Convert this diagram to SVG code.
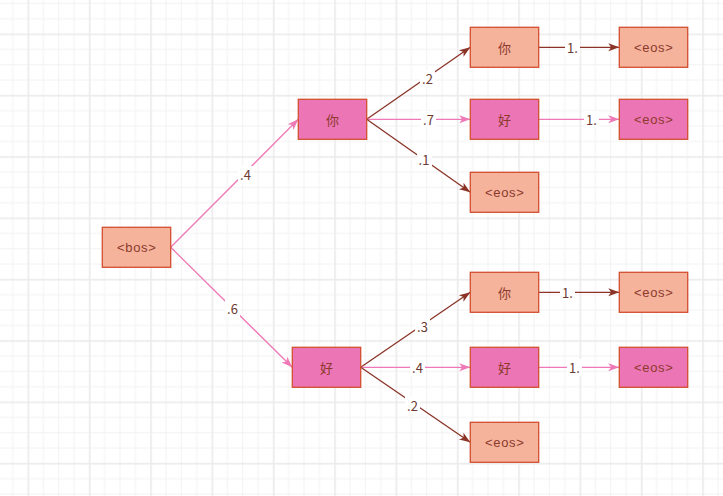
<svg xmlns="http://www.w3.org/2000/svg" width="723" height="496" viewBox="0 0 723 496">
<defs>
<pattern id="grid" patternUnits="userSpaceOnUse" x="27.5" y="33.5" width="61.333" height="61.333">
<rect x="0" y="0" width="61.333" height="61.333" fill="#ffffff"/>
<rect x="15.333" y="0" width="1" height="61.333" fill="#f3f3f3"/>
<rect x="30.667" y="0" width="1" height="61.333" fill="#f3f3f3"/>
<rect x="46" y="0" width="1" height="61.333" fill="#f3f3f3"/>
<rect x="0" y="15.333" width="61.333" height="1" fill="#f3f3f3"/>
<rect x="0" y="30.667" width="61.333" height="1" fill="#f3f3f3"/>
<rect x="0" y="46" width="61.333" height="1" fill="#f3f3f3"/>
<rect x="0" y="0" width="1.6" height="61.333" fill="#ebebeb"/>
<rect x="0" y="0" width="61.333" height="1.6" fill="#ebebeb"/>
</pattern>
<marker id="arrDark" markerUnits="userSpaceOnUse" markerWidth="12" markerHeight="9" refX="11" refY="4" orient="auto" overflow="visible">
<path d="M0,0 L11,4 L0,8 L2.8,4 Z" fill="#8a3326"/>
</marker>
<marker id="arrPink" markerUnits="userSpaceOnUse" markerWidth="12" markerHeight="9" refX="11" refY="4" orient="auto" overflow="visible">
<path d="M0,0 L11,4 L0,8 L2.8,4 Z" fill="#ee79b6"/>
</marker>
</defs>
<style>
.salmon{fill:#f5b39c;stroke:#d24e2f;stroke-width:1.3}
.pink{fill:#ec75b5;stroke:#d24e2f;stroke-width:1.3}
.nt{font-family:"Noto Sans CJK SC","Liberation Sans",sans-serif;font-size:13px;fill:#8c3a2c;text-anchor:middle;dominant-baseline:central}
.ntl{font-family:"Liberation Sans","Noto Sans CJK SC",sans-serif;font-size:13px;letter-spacing:0.7px;fill:#8c3a2c;text-anchor:middle;dominant-baseline:central}
.dark{stroke:#8a3326;stroke-width:1.3;fill:none;marker-end:url(#arrDark)}
.pk{stroke:#ee79b6;stroke-width:1.3;fill:none;marker-end:url(#arrPink)}
.lbg{fill:#ffffff}
.lt{font-family:"Noto Sans CJK SC","Liberation Sans",sans-serif;font-size:13px;fill:#6b3a30;text-anchor:middle;dominant-baseline:central}
</style>
<rect x="0" y="0" width="723" height="496" fill="url(#grid)"/>
<g id="connectors">
<line class="pk" x1="170.7" y1="247.3" x2="298.3" y2="119.3"/>
<line class="pk" x1="170.7" y1="247.3" x2="292.3" y2="367.3"/>
<line class="dark" x1="366.7" y1="119.3" x2="470.3" y2="47.3"/>
<line class="pk" x1="366.7" y1="119.3" x2="470.3" y2="119.3"/>
<line class="dark" x1="366.7" y1="119.3" x2="470.3" y2="192.3"/>
<line class="dark" x1="538.7" y1="47.3" x2="619.3" y2="47.3"/>
<line class="pk" x1="538.7" y1="119.3" x2="619.3" y2="119.3"/>
<line class="dark" x1="360.7" y1="367.3" x2="470.3" y2="292.3"/>
<line class="pk" x1="360.7" y1="367.3" x2="470.3" y2="367.3"/>
<line class="dark" x1="360.7" y1="367.3" x2="470.3" y2="442.3"/>
<line class="dark" x1="538.7" y1="292.3" x2="619.3" y2="292.3"/>
<line class="pk" x1="538.7" y1="367.3" x2="619.3" y2="367.3"/>
<rect class="lbg" x="238" y="166" width="15" height="17"/><text class="lt" x="245.5" y="174.5">.4</text>
<rect class="lbg" x="225" y="300" width="15" height="17"/><text class="lt" x="232.5" y="308.5">.6</text>
<rect class="lbg" x="420" y="70" width="15" height="17"/><text class="lt" x="427.5" y="78.5">.2</text>
<rect class="lbg" x="421" y="111" width="15" height="17"/><text class="lt" x="428.5" y="119.5">.7</text>
<rect class="lbg" x="417" y="151" width="15" height="17"/><text class="lt" x="424" y="159.5">.1</text>
<rect class="lbg" x="565" y="39" width="15" height="17"/><text class="lt" x="572.5" y="47.5">1.</text>
<rect class="lbg" x="584" y="111" width="15" height="17"/><text class="lt" x="591.5" y="119.5">1.</text>
<rect class="lbg" x="415" y="318" width="15" height="17"/><text class="lt" x="422.5" y="326.5">.3</text>
<rect class="lbg" x="410" y="359" width="15" height="17"/><text class="lt" x="417.5" y="367.5">.4</text>
<rect class="lbg" x="405" y="397" width="15" height="17"/><text class="lt" x="412.5" y="405.5">.2</text>
<rect class="lbg" x="560" y="284" width="15" height="17"/><text class="lt" x="567.5" y="292.5">1.</text>
<rect class="lbg" x="567" y="359" width="15" height="17"/><text class="lt" x="574.5" y="367.5">1.</text>
</g>
<g id="n-bos"><rect class="salmon" x="102.3" y="227.3" width="68.4" height="40"/><text class="ntl" x="136.8" y="247.3">&lt;bos&gt;</text></g>
<g id="n-ni1"><rect class="pink" x="298.3" y="99.3" width="68.4" height="40"/><text class="nt" x="332.5" y="119.3">你</text></g>
<g id="n-hao1"><rect class="pink" x="292.3" y="347.3" width="68.4" height="40"/><text class="nt" x="326.5" y="367.3">好</text></g>
<g id="n-ni-ni"><rect class="salmon" x="470.3" y="27.3" width="68.4" height="40"/><text class="nt" x="504.5" y="47.3">你</text></g>
<g id="n-ni-hao"><rect class="pink" x="470.3" y="99.3" width="68.4" height="40"/><text class="nt" x="504.5" y="119.3">好</text></g>
<g id="n-ni-eos"><rect class="salmon" x="470.3" y="172.3" width="68.4" height="40"/><text class="ntl" x="504.8" y="192.3">&lt;eos&gt;</text></g>
<g id="n-ni-ni-eos"><rect class="salmon" x="619.3" y="27.3" width="68.4" height="40"/><text class="ntl" x="653.8" y="47.3">&lt;eos&gt;</text></g>
<g id="n-ni-hao-eos"><rect class="pink" x="619.3" y="99.3" width="68.4" height="40"/><text class="ntl" x="653.8" y="119.3">&lt;eos&gt;</text></g>
<g id="n-hao-ni"><rect class="salmon" x="470.3" y="272.3" width="68.4" height="40"/><text class="nt" x="504.5" y="292.3">你</text></g>
<g id="n-hao-hao"><rect class="pink" x="470.3" y="347.3" width="68.4" height="40"/><text class="nt" x="504.5" y="367.3">好</text></g>
<g id="n-hao-eos"><rect class="salmon" x="470.3" y="422.3" width="68.4" height="40"/><text class="ntl" x="504.8" y="442.3">&lt;eos&gt;</text></g>
<g id="n-hao-ni-eos"><rect class="salmon" x="619.3" y="272.3" width="68.4" height="40"/><text class="ntl" x="653.8" y="292.3">&lt;eos&gt;</text></g>
<g id="n-hao-hao-eos"><rect class="pink" x="619.3" y="347.3" width="68.4" height="40"/><text class="ntl" x="653.8" y="367.3">&lt;eos&gt;</text></g>
</svg>
